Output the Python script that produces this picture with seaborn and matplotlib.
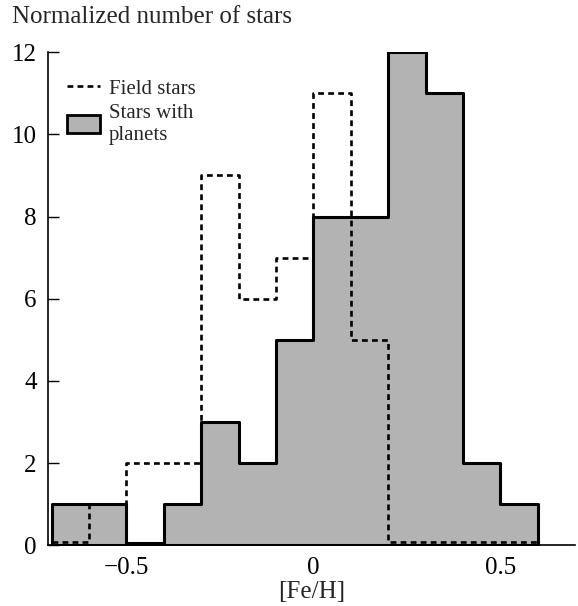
import numpy as np
import pandas as pd
import matplotlib
matplotlib.use("Agg")
import matplotlib.pyplot as plt
import seaborn as sns
from matplotlib.lines import Line2D
from matplotlib.patches import Patch

# Bin edges of [Fe/H]
bin_edges = [-0.7, -0.6, -0.5, -0.4, -0.3, -0.2, -0.1, 0.0, 0.1, 0.2, 0.3, 0.4, 0.5, 0.6]
# Normalized counts per bin
planet_counts = [1, 1, 0.05, 1, 3, 2, 5, 8, 8, 12, 11, 2, 1]
field_counts = [0.08, 1, 2, 2, 9, 6, 7, 11, 5, 0.08, 0.08, 0.08, 0.08]

edges = np.array(bin_edges)
centers = (edges[:-1] + edges[1:]) / 2
df_p = pd.DataFrame({"feh": centers, "n": planet_counts})
df_f = pd.DataFrame({"feh": centers, "n": field_counts})

sns.set_style("ticks")
plt.rcParams["font.family"] = ["Liberation Serif", "DejaVu Serif"]
plt.rcParams["mathtext.fontset"] = "stix"

fig = plt.figure(figsize=(5.78, 6.06), dpi=100)
ax = fig.add_axes([0.083, 0.1, 0.912, 0.814])

dash = (0, (2.2, 1.6))
sns.histplot(data=df_p, x="feh", weights="n", bins=list(bin_edges), element="step",
             fill=True, color="#b3b3b3", alpha=1, edgecolor="black",
             linewidth=2.2, ax=ax, zorder=2)
sns.histplot(data=df_f, x="feh", weights="n", bins=list(bin_edges), element="step",
             fill=False, color="black", linestyle=dash, linewidth=1.9,
             ax=ax, zorder=3)

ax.set_xlim(-0.71, 0.70)
ax.set_ylim(0, 12)
ax.set_xticks([-0.5, 0, 0.5])
ax.set_xticklabels(["\u22120.5", "0", "0.5"])
ax.set_yticks([0, 2, 4, 6, 8, 10, 12])
ax.tick_params(direction="in", length=8, width=1, labelsize=18, colors="black")
ax.tick_params(axis="y", pad=8)
ax.tick_params(axis="x", pad=8)
for s in ["top", "right"]:
    ax.spines[s].set_visible(False)
for s in ["left", "bottom"]:
    ax.spines[s].set_linewidth(1.2)
    ax.spines[s].set_color("black")
ax.set_xlabel("[Fe/H]", fontsize=18, labelpad=2)
ax.set_ylabel("")
fig.text(0.02, 0.99, "Normalized number of stars", fontsize=18, va="top", ha="left")

handles = [Line2D([0], [0], color="black", linestyle=dash, linewidth=1.9),
           Patch(facecolor="#b3b3b3", edgecolor="black", linewidth=2)]
ax.legend(handles, ["Field stars", "Stars with\nplanets"], loc="upper left",
          bbox_to_anchor=(0.02, 0.965), frameon=False, fontsize=15,
          handlelength=1.6, handleheight=0.9, handletextpad=0.4,
          labelspacing=0.25, borderaxespad=0)

fig.savefig("out.png", dpi=100)
